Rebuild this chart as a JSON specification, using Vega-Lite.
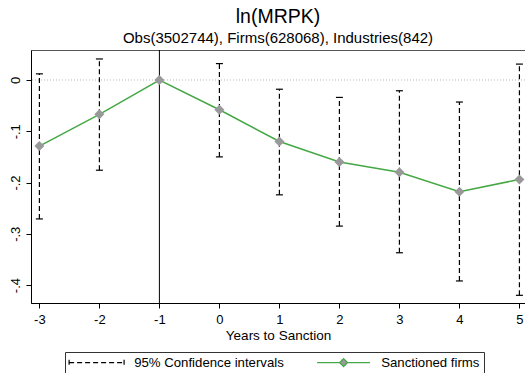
{
  "$schema": "https://vega.github.io/schema/vega-lite/v6.json",
  "width": 494,
  "height": 253,
  "autosize": {"type": "none"},
  "padding": {"left": 31, "top": 50, "right": 0, "bottom": 70},
  "background": "white",
  "config": {
    "font": "Liberation Sans",
    "view": {"stroke": "#555555", "strokeWidth": 1}
  },
  "title": {
    "text": "ln(MRPK)",
    "subtitle": "Obs(3502744), Firms(628068), Industries(842)",
    "fontSize": 19.5,
    "fontWeight": "normal",
    "subtitleFontSize": 15,
    "color": "black",
    "subtitleColor": "black",
    "anchor": "middle",
    "offset": 3,
    "subtitlePadding": 3
  },
  "data": {
    "values": [
      {"t": -3, "b": -0.129, "lo": -0.271, "hi": 0.012},
      {"t": -2, "b": -0.067, "lo": -0.176, "hi": 0.041},
      {"t": -1, "b": 0.0, "lo": null, "hi": null},
      {"t": 0, "b": -0.058, "lo": -0.150, "hi": 0.032},
      {"t": 1, "b": -0.120, "lo": -0.224, "hi": -0.018},
      {"t": 2, "b": -0.160, "lo": -0.285, "hi": -0.034},
      {"t": 3, "b": -0.180, "lo": -0.337, "hi": -0.021},
      {"t": 4, "b": -0.218, "lo": -0.392, "hi": -0.043},
      {"t": 5, "b": -0.194, "lo": -0.420, "hi": 0.031}
    ]
  },
  "layer": [
    {
      "data": {"values": [{"v": 0}]},
      "mark": {"type": "rule", "color": "#b5b5b5", "strokeDash": [1, 2], "strokeWidth": 1},
      "encoding": {
        "y": {"field": "v", "type": "quantitative", "scale": {"domain": [-0.435, 0.0585], "zero": false, "nice": false},
          "axis": {"values": [0, -0.1, -0.2, -0.3, -0.4], "labelExpr": "datum.value == 0 ? '0' : '-.' + round(-datum.value * 10)", "labelAngle": -90, "labelAlign": "center", "labelBaseline": "bottom", "labelPadding": 4, "tickSize": 5, "tickColor": "black", "domainColor": "black", "labelFontSize": 13, "labelColor": "black", "grid": false, "title": null}}
      }
    },
    {
      "data": {"values": [{"v": -1}]},
      "mark": {"type": "rule", "color": "black", "strokeWidth": 1},
      "encoding": {
        "x": {"field": "v", "type": "quantitative", "scale": {"domain": [-3.14, 5.093], "zero": false, "nice": false},
          "axis": {"values": [-3, -2, -1, 0, 1, 2, 3, 4, 5], "labelExpr": "'' + datum.value", "labelAngle": 0, "labelPadding": 5, "tickSize": 5, "tickColor": "black", "domainColor": "black", "labelFontSize": 13, "labelColor": "black", "grid": false, "title": "Years to Sanction", "titleFontSize": 13.5, "titleFontWeight": "normal", "titleColor": "black", "titlePadding": 2}}
      }
    },
    {
      "mark": {"type": "rule", "strokeDash": [5, 3], "strokeWidth": 1.2},
      "encoding": {
        "x": {"field": "t", "type": "quantitative"},
        "y": {"field": "lo", "type": "quantitative"},
        "y2": {"field": "hi"},
        "color": {"datum": "95% Confidence intervals", "type": "nominal",
          "scale": {"domain": ["95% Confidence intervals", "Sanctioned firms"], "range": ["black", "#45a845"]},
          "legend": {
            "orient": "none", "legendX": 34, "legendY": 302, "direction": "horizontal", "title": null,
            "strokeColor": "#333333", "fillColor": "white", "padding": 4,
            "labelFontSize": 13.2, "labelColor": "black", "labelFont": "Liberation Sans",
            "symbolSize": 100, "symbolOffset": 21, "labelOffset": 31, "columnPadding": 30,
            "symbolStrokeWidth": 1.2,
            "encode": {
              "symbols": {
                "update": {
                  "shape": {"signal": "datum.value === 'Sanctioned firms' ? 'M-5.3,0H-0.8M0.8,0H5.3M-0.8,0L0,-0.8L0.8,0L0,0.8Z' : 'M-5.5,-0.6V0.6M-5.5,0H5.5M5.5,-0.6V0.6'"},
                  "fill": {"signal": "datum.value === 'Sanctioned firms' ? '#999999' : 'transparent'"},
                  "stroke": {"signal": "datum.value === 'Sanctioned firms' ? '#45a845' : 'black'"},
                  "strokeDash": {"signal": "datum.value === 'Sanctioned firms' ? [1, 0] : [5, 3]"},
                  "strokeWidth": {"value": 1.2},
                  "opacity": {"value": 1}
                }
              }
            }
          }
        }
      }
    },
    {
      "mark": {"type": "tick", "orient": "horizontal", "color": "black", "size": 7, "thickness": 1.2, "opacity": 1},
      "encoding": {
        "x": {"field": "t", "type": "quantitative"},
        "y": {"field": "hi", "type": "quantitative"}
      }
    },
    {
      "mark": {"type": "tick", "orient": "horizontal", "color": "black", "size": 7, "thickness": 1.2, "opacity": 1},
      "encoding": {
        "x": {"field": "t", "type": "quantitative"},
        "y": {"field": "lo", "type": "quantitative"}
      }
    },
    {
      "mark": {"type": "line", "strokeWidth": 1.5},
      "encoding": {
        "x": {"field": "t", "type": "quantitative"},
        "y": {"field": "b", "type": "quantitative"},
        "color": {"datum": "Sanctioned firms", "type": "nominal"}
      }
    },
    {
      "mark": {"type": "point", "shape": "diamond", "filled": true, "fill": "#999999", "size": 100, "opacity": 1, "strokeWidth": 0},
      "encoding": {
        "x": {"field": "t", "type": "quantitative"},
        "y": {"field": "b", "type": "quantitative"}
      }
    }
  ]
}
